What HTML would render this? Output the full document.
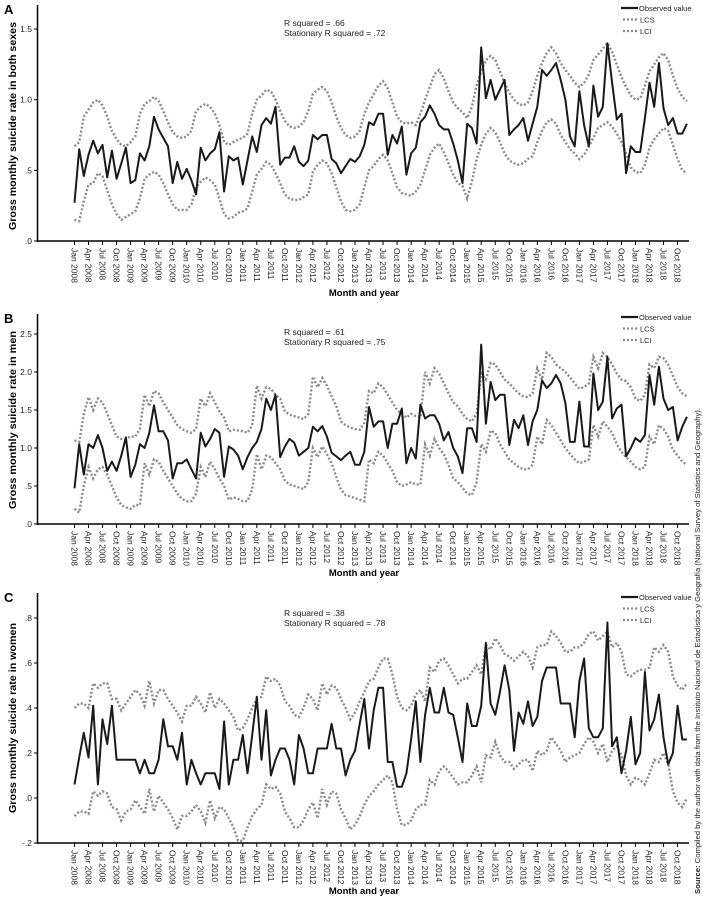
<!DOCTYPE html>
<html><head><meta charset="utf-8">
<style>
html,body{margin:0;padding:0;background:#fff;}
svg{display:block;font-family:"Liberation Sans",Arial,sans-serif;}
</style></head>
<body>
<svg id="chart" width="703" height="900" viewBox="0 0 703 900"></svg>
<script>
// ---- shared data ----
const months = ["Jan","Feb","Mar","Apr","May","Jun","Jul","Aug","Sep","Oct","Nov","Dec"];
const years = [2008,2009,2010,2011,2012,2013,2014,2015,2016,2017,2018];

// ---- Panel A: both sexes ----
const obsA = [.27,.65,.46,.61,.71,.62,.68,.45,.64,.44,.55,.66,
.41,.43,.62,.57,.67,.88,.79,.73,.67,.41,.56,.44,
.51,.43,.33,.66,.57,.62,.65,.77,.35,.60,.57,.59,
.40,.57,.74,.63,.82,.87,.83,.95,.54,.59,.59,.67,
.56,.53,.57,.75,.72,.75,.75,.58,.55,.48,.53,.58,
.56,.60,.68,.84,.82,.90,.90,.61,.75,.69,.81,.47,
.62,.66,.84,.88,.96,.90,.82,.79,.79,.69,.57,.41,
.83,.80,.69,1.37,1.01,1.14,1.0,1.07,1.14,.75,.79,.82,
.87,.71,.83,.95,1.21,1.17,1.21,1.26,1.14,1.0,.74,.67,
1.06,.82,.67,1.10,.88,.95,1.40,1.12,.86,.90,.48,.67,
.63,.63,.87,1.12,.95,1.26,.94,.82,.87,.76,.76,.83];
const lcsA = [.67,.70,.88,.93,.98,1.0,.96,.88,.78,.72,.68,.67,
.70,.74,.90,.97,.99,1.02,.99,.92,.84,.77,.74,.73,
.74,.78,.92,.95,.97,.95,.90,.82,.70,.68,.70,.72,
.73,.76,.90,1.0,1.03,1.07,1.06,1.00,.92,.85,.81,.80,
.81,.84,.92,1.04,1.07,1.09,1.06,.98,.88,.80,.75,.73,
.74,.78,.90,.98,1.04,1.10,1.13,1.08,.98,.88,.84,.83,
.84,.82,.90,1.00,1.09,1.18,1.21,1.15,1.06,.98,.94,.91,
.87,.95,1.10,1.20,1.28,1.31,1.28,1.20,1.12,1.05,1.00,.97,
.96,.98,1.06,1.17,1.26,1.33,1.37,1.33,1.26,1.21,1.17,1.12,
1.09,1.12,1.18,1.28,1.32,1.36,1.40,1.34,1.25,1.16,1.09,1.03,
1.00,1.01,1.10,1.20,1.25,1.30,1.33,1.28,1.17,1.08,1.02,.99];
const lciA = [.15,.14,.28,.40,.41,.48,.46,.36,.26,.19,.15,.17,
.19,.21,.30,.44,.47,.49,.47,.41,.33,.26,.22,.22,
.22,.26,.38,.42,.45,.43,.40,.30,.19,.16,.17,.20,
.21,.23,.35,.47,.51,.56,.54,.48,.41,.33,.30,.29,
.29,.31,.33,.49,.54,.57,.55,.48,.38,.28,.22,.21,
.22,.26,.38,.50,.53,.58,.61,.57,.48,.38,.34,.33,
.32,.35,.40,.50,.61,.66,.69,.63,.55,.47,.41,.39,
.30,.42,.58,.68,.76,.80,.77,.70,.62,.57,.55,.54,
.55,.58,.60,.70,.78,.84,.86,.83,.75,.70,.65,.62,
.58,.61,.67,.73,.80,.82,.84,.81,.76,.70,.62,.52,
.49,.48,.54,.66,.72,.76,.80,.78,.68,.58,.50,.48];
const ticksA = [0,0.5,1.0,1.5];
const tickLabelsA = [".0",".5","1.0","1.5"];

// ---- Panel B: men ----
const obsB = [.47,1.05,.65,1.05,1.0,1.17,1.0,.7,.82,.7,.9,1.14,
.62,.78,1.05,1.0,1.2,1.56,1.22,1.22,1.1,.6,.8,.8,
.85,.72,.6,1.2,1.02,1.12,1.25,1.2,.62,1.02,.98,.9,
.72,.88,1.0,1.08,1.25,1.65,1.5,1.7,.88,1.02,1.12,1.07,
.9,.95,1.0,1.28,1.22,1.29,1.15,.94,.89,.84,.9,.95,
.78,.78,.95,1.54,1.28,1.35,1.35,1.0,1.32,1.32,1.52,.80,
1.0,.86,1.57,1.39,1.43,1.43,1.32,1.1,1.21,1.0,.89,.67,
1.26,1.26,1.08,2.36,1.32,1.87,1.63,1.70,1.70,1.04,1.37,1.26,
1.43,1.04,1.35,1.5,1.89,1.79,1.85,1.96,1.85,1.59,1.08,1.08,
1.61,1.02,1.02,1.98,1.5,1.61,2.2,1.39,1.52,1.57,.89,1.0,
1.13,1.08,1.17,1.96,1.57,2.07,1.65,1.5,1.54,1.1,1.28,1.41];
const lcsB = [1.1,1.08,1.45,1.67,1.5,1.65,1.6,1.45,1.3,1.15,1.12,1.12,
1.15,1.15,1.25,1.7,1.55,1.75,1.72,1.6,1.5,1.4,1.3,1.25,
1.22,1.2,1.25,1.65,1.55,1.72,1.6,1.48,1.4,1.22,1.24,1.23,
1.22,1.2,1.3,1.82,1.65,1.8,1.78,1.7,1.65,1.48,1.44,1.42,
1.4,1.38,1.45,1.94,1.8,1.92,1.82,1.68,1.55,1.35,1.3,1.27,
1.25,1.24,1.33,1.75,1.72,1.85,1.8,1.7,1.6,1.5,1.45,1.4,
1.45,1.42,1.4,2.0,1.85,2.05,1.98,1.85,1.72,1.6,1.55,1.45,
1.38,1.35,1.45,1.98,1.9,2.12,2.1,2.0,1.9,1.85,1.78,1.72,
1.68,1.67,1.72,2.05,1.9,2.25,2.2,2.1,2.05,2.0,1.93,1.85,
1.78,1.8,1.85,2.2,2.05,2.25,2.2,2.1,1.98,1.9,1.88,1.8,
1.65,1.62,1.7,2.1,2.05,2.2,2.18,2.1,1.95,1.8,1.72,1.68];
const lciB = [.2,.15,.5,.75,.6,.72,.75,.65,.5,.35,.25,.22,
.2,.25,.25,.8,.65,.85,.82,.7,.6,.5,.4,.33,
.3,.3,.4,.75,.62,.82,.72,.6,.5,.32,.35,.33,
.3,.3,.45,.92,.72,.9,.88,.8,.72,.57,.52,.5,
.48,.46,.55,1.0,.88,1.02,.92,.8,.62,.45,.38,.36,
.34,.32,.3,.85,.8,.95,.9,.8,.7,.55,.5,.52,
.55,.52,.52,1.05,.9,1.12,1.0,.92,.78,.6,.55,.48,
.4,.38,.55,1.05,.95,1.23,1.2,1.05,.95,.85,.8,.75,
.72,.72,.78,1.15,1.05,1.37,1.3,1.2,1.1,1.0,.92,.85,
.8,.82,.85,1.3,1.15,1.35,1.28,1.2,1.05,.95,.88,.82,
.75,.72,.75,1.15,1.05,1.3,1.25,1.15,.98,.9,.82,.78];
const ticksB = [0,0.5,1.0,1.5,2.0,2.5];
const tickLabelsB = [".0",".5","1.0","1.5","2.0","2.5"];

// ---- Panel C: women ----
const obsC = [.06,.18,.29,.18,.41,.06,.35,.24,.41,.17,.17,.17,
.17,.17,.11,.17,.11,.11,.17,.35,.23,.23,.17,.29,
.06,.17,.11,.06,.11,.11,.11,.04,.34,.06,.17,.17,
.28,.11,.28,.45,.17,.39,.10,.17,.22,.22,.17,.06,
.28,.22,.11,.11,.22,.22,.22,.33,.22,.22,.10,.17,
.21,.33,.44,.22,.39,.49,.49,.16,.16,.05,.05,.11,
.26,.43,.16,.37,.49,.38,.38,.49,.38,.37,.27,.16,
.42,.32,.32,.41,.69,.42,.37,.47,.59,.48,.21,.38,
.33,.43,.32,.36,.52,.58,.58,.58,.42,.42,.42,.27,
.52,.62,.31,.27,.27,.31,.78,.23,.27,.11,.21,.36,
.15,.20,.56,.30,.35,.46,.27,.15,.20,.41,.26,.26];
const lcsC = [.40,.42,.42,.40,.51,.49,.51,.51,.44,.44,.39,.42,
.45,.48,.46,.41,.52,.42,.48,.48,.44,.41,.38,.34,
.41,.41,.45,.42,.38,.47,.40,.44,.42,.39,.36,.30,
.31,.35,.40,.44,.45,.54,.52,.53,.50,.43,.41,.37,
.36,.40,.46,.44,.39,.51,.46,.50,.49,.44,.40,.35,
.38,.43,.47,.52,.53,.58,.62,.62,.55,.45,.40,.39,
.41,.46,.48,.43,.58,.56,.61,.62,.59,.55,.51,.53,
.53,.56,.59,.55,.68,.66,.71,.68,.64,.63,.61,.63,
.65,.63,.58,.67,.68,.68,.74,.72,.69,.65,.65,.67,
.67,.69,.73,.74,.70,.72,.74,.67,.69,.65,.55,.54,
.56,.57,.57,.58,.67,.65,.68,.65,.54,.50,.48,.51];
const lciC = [-.08,-.06,-.06,-.07,.03,.01,.03,.02,-.04,-.05,-.10,-.06,
-.05,-.01,-.04,-.07,.04,-.06,.01,-.02,-.05,-.09,-.14,-.08,
-.08,-.06,-.03,-.06,-.11,-.01,-.09,-.04,-.05,-.09,-.13,-.19,
-.19,-.13,-.08,-.05,-.03,.06,.04,.05,.02,-.06,-.09,-.13,
-.13,-.10,-.05,-.02,-.09,.04,-.03,.03,.02,-.05,-.09,-.14,
-.12,-.08,-.03,.01,.03,.06,.08,.10,.07,-.05,-.12,-.12,
-.10,-.05,-.03,-.03,.08,.06,.12,.14,.12,.09,.06,.07,
.07,.10,.14,.07,.19,.18,.25,.19,.16,.16,.13,.15,
.17,.17,.12,.21,.19,.21,.27,.24,.21,.16,.18,.19,
.20,.24,.27,.25,.20,.24,.16,.21,.23,.19,.10,.06,
.09,.08,.06,.11,.17,.16,.20,.15,.03,-.02,-.04,.00];
const ticksC = [-0.2,0,0.2,0.4,0.6,0.8];
const tickLabelsC = ["-.2",".0",".2",".4",".6",".8"];

const NS = "http://www.w3.org/2000/svg";
const svg = document.getElementById("chart");
function mk(tag, attrs, parent, text){
  const e = document.createElementNS(NS, tag);
  for (const k in attrs) e.setAttribute(k, attrs[k]);
  if (text !== undefined) e.textContent = text;
  (parent || svg).appendChild(e);
  return e;
}
function xScale(i){ return 74.5 + 4.675 * i; }

function drawPanel(cfg){
  const g = mk("g", {});
  
  
  const yS = v => cfg.y0 - v * cfg.k;
  const bottom = yS(cfg.ticks[0]);

  const letter = mk("text", {x:4, y:cfg.top+9, "font-size":13, "font-weight":"bold"}, g, cfg.letter);
  
  

  const yAxis = mk("line", {x1:37.5, y1:cfg.top, x2:37.5, y2:bottom+1, stroke:"#000", "stroke-width":1.5}, g);
  
  
  const xAxis = mk("line", {x1:37, y1:bottom, x2:689, y2:bottom, stroke:"#000", "stroke-width":1.5}, g);
  
  

  cfg.ticks.forEach((t, j) => {
    const y = yS(t);
    const tk = mk("line", {x1:34, y1:y, x2:37.5, y2:y, stroke:"#000", "stroke-width":1}, g);
    
    
    const lb = mk("text", {x:32, y:y+3, "font-size":8.5, "text-anchor":"end", fill:"#222"}, g, cfg.tickLabels[j]);
    
    
  });

  for (let i = 0; i < 132; i += 3){
    const x = xScale(i);
    const tk = mk("line", {x1:x, y1:bottom, x2:x, y2:bottom+4, stroke:"#000", "stroke-width":1}, g);
    
    
    const label = months[i % 12] + " " + years[Math.floor(i / 12)];
    const lb = mk("text", {x:x-3, y:bottom+7, "font-size":8.5, fill:"#222",
      transform:"rotate(90 " + (x-3) + " " + (bottom+7) + ")"}, g, label);
    
    
  }

  const xt = mk("text", {x:364, y:cfg.xTitleY, "font-size":9.5, "font-weight":"bold", "text-anchor":"middle"}, g, "Month and year");
  
  
  const cy = cfg.yTitleC;
  const yt = mk("text", {x:16, y:cy, "font-size":10.5, "font-weight":"bold", "text-anchor":"middle",
    textLength:cfg.yTitleLen, lengthAdjust:"spacingAndGlyphs",
    transform:"rotate(-90 16 " + cy + ")"}, g, cfg.yTitle);
  
  

  const r1 = mk("text", {x:284, y:cfg.rY, "font-size":8.5, fill:"#222"}, g, "R squared = " + cfg.r2);
  
  
  const r2 = mk("text", {x:284, y:cfg.rY+10, "font-size":8.5, fill:"#222"}, g, "Stationary R squared = " + cfg.sr2);
  
  

  function pts(arr){ return arr.map((v, i) => xScale(i).toFixed(1) + "," + yS(v).toFixed(1)).join(" "); }
  const lcs = mk("polyline", {points:pts(cfg.lcs), fill:"none", stroke:"#8a8a8a", "stroke-width":2.4, "stroke-dasharray":"2,2"}, g);
  
  
  const lci = mk("polyline", {points:pts(cfg.lci), fill:"none", stroke:"#8a8a8a", "stroke-width":2.4, "stroke-dasharray":"2,2"}, g);
  
  
  const obs = mk("polyline", {points:pts(cfg.obs), fill:"none", stroke:"#1a1a1a", "stroke-width":2, "stroke-linejoin":"round"}, g);
  
  

  const lg = mk("g", {}, g);
  
  
  const ly = cfg.legY;
  const l1 = mk("line", {x1:621, y1:ly, x2:638, y2:ly, stroke:"#1a1a1a", "stroke-width":2.2}, lg);
  
  
  const t1 = mk("text", {x:639, y:ly+3, "font-size":7.5, fill:"#222"}, lg, "Observed value");
  
  
  const l2 = mk("line", {x1:623, y1:ly+11.5, x2:638, y2:ly+11.5, stroke:"#8a8a8a", "stroke-width":2.2, "stroke-dasharray":"2,2"}, lg);
  
  
  const t2 = mk("text", {x:640, y:ly+14.5, "font-size":7.5, fill:"#222"}, lg, "LCS");
  
  
  const l3 = mk("line", {x1:623, y1:ly+23, x2:638, y2:ly+23, stroke:"#8a8a8a", "stroke-width":2.2, "stroke-dasharray":"2,2"}, lg);
  
  
  const t3 = mk("text", {x:640, y:ly+26, "font-size":7.5, fill:"#222"}, lg, "LCI");
  
  
}

drawPanel({key:"both-sexes", letter:"A", top:5, y0:241, k:141.3, ticks:ticksA, tickLabels:tickLabelsA,
  obs:obsA, lcs:lcsA, lci:lciA, yTitle:"Gross monthly suicide rate in both sexes", r2:".66", sr2:".72",
  rY:26, legY:8, xTitleY:296, yTitleC:126, yTitleLen:208});
drawPanel({key:"men", letter:"B", top:314, y0:524, k:76, ticks:ticksB, tickLabels:tickLabelsB,
  obs:obsB, lcs:lcsB, lci:lciB, yTitle:"Gross monthly suicide rate in men", r2:".61", sr2:".75",
  rY:335, legY:317, xTitleY:576, yTitleC:420, yTitleLen:178});
drawPanel({key:"women", letter:"C", top:593, y0:798, k:225, ticks:ticksC, tickLabels:tickLabelsC,
  obs:obsC, lcs:lcsC, lci:lciC, yTitle:"Gross monthly suicide rate in women", r2:".38", sr2:".78",
  rY:616, legY:597, xTitleY:894, yTitleC:718, yTitleLen:190});

const src = mk("text", {x:700, y:894, "font-size":7.5, fill:"#222", textLength:486, lengthAdjust:"spacingAndGlyphs",
  transform:"rotate(-90 700 894)"});


const sb = mk("tspan", {"font-weight":"bold"}, src, "Source: ");


const st = mk("tspan", {}, src, "Compiled by the author with data from the Instituto Nacional de Estadística y Geografía (National Survey of Statistics and Geography).");


</script>
</body></html>
